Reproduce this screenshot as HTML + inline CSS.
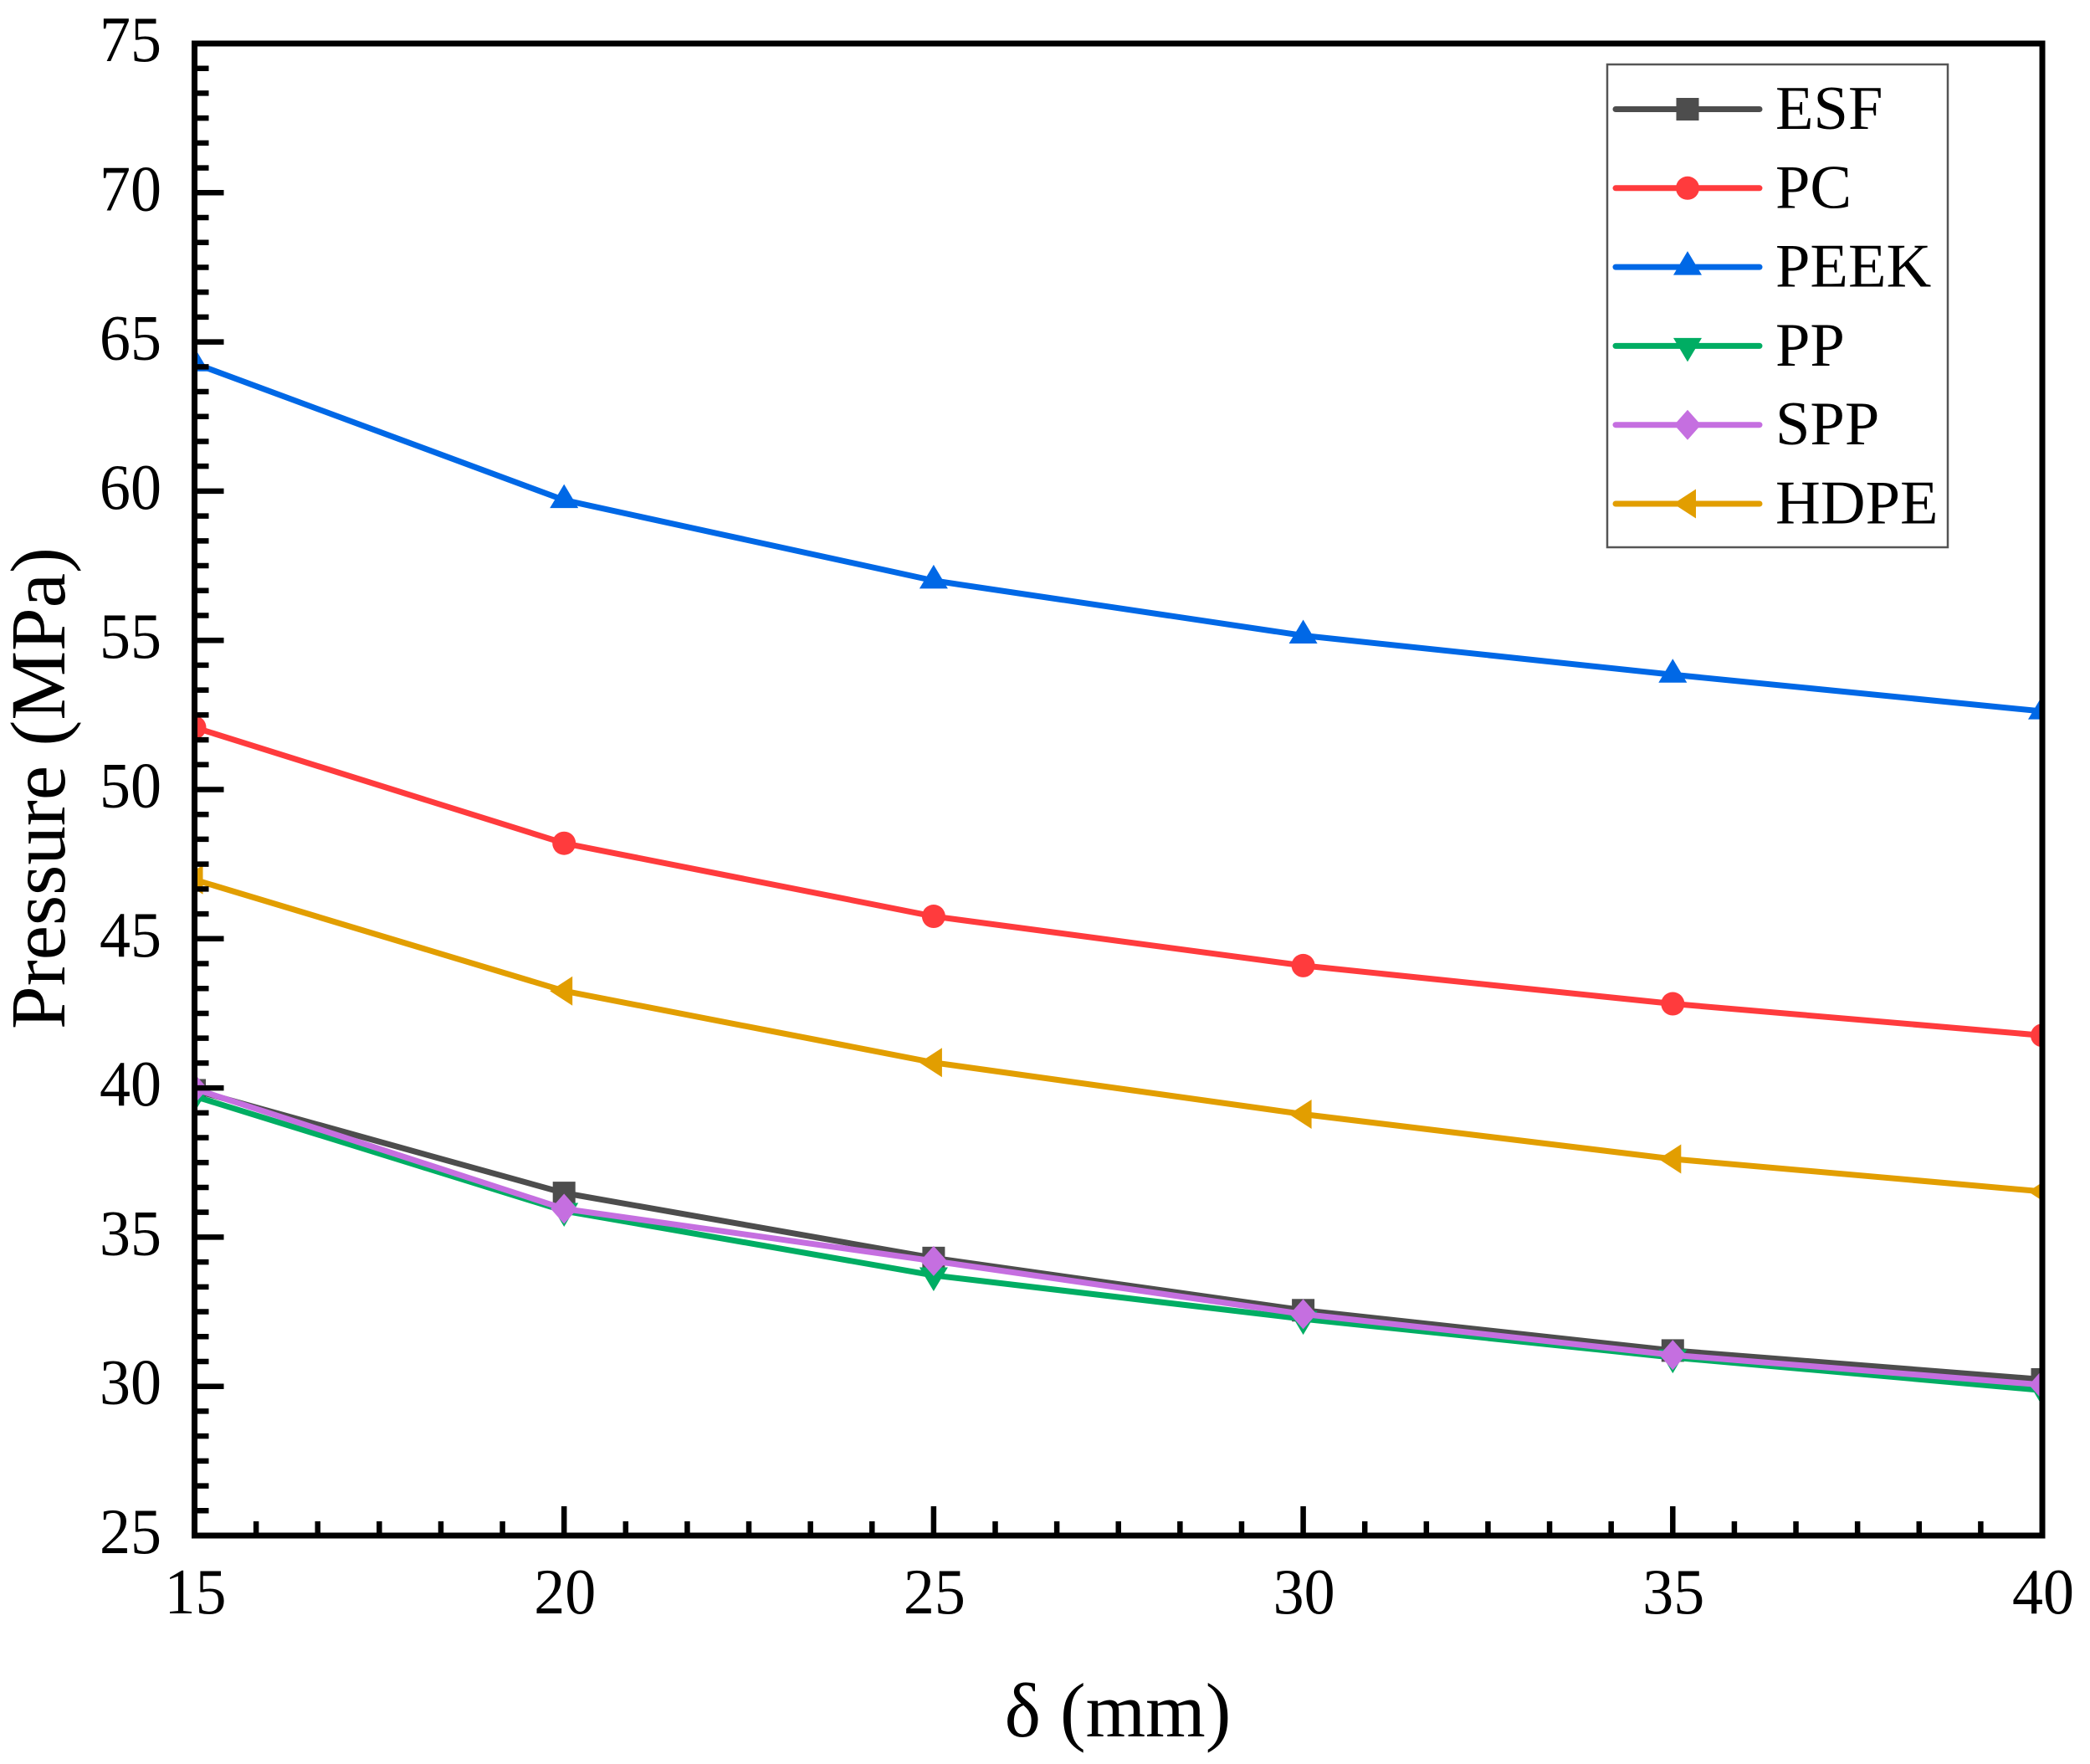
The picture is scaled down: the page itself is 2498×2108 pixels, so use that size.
<!DOCTYPE html>
<html lang="en">
<head>
<meta charset="utf-8">
<title>Pressure vs δ</title>
<style>
html,body{margin:0;padding:0;background:#fff;}
#chart{display:block;width:2498px;height:2108px;font-family:"Liberation Serif",serif;fill:#000;}
</style>
</head>
<body>
<svg id="chart" xmlns="http://www.w3.org/2000/svg" width="2498" height="2108" viewBox="0 0 2498 2108">
  <defs><clipPath id="plot-clip"><rect x="232.5" y="52" width="2208.5" height="1783"/></clipPath></defs>
  <rect x="0" y="0" width="2498" height="2108" fill="#fff"/>
  <g id="series-layer" clip-path="url(#plot-clip)"></g>
  <g id="axis-layer"></g>
  <text x="1336" y="2075" font-size="92" text-anchor="middle">δ (mm)</text>
  <text transform="translate(77,942) rotate(-90)" font-size="93" text-anchor="middle">Pressure (MPa)</text>
  <rect x="1921" y="77" width="407" height="577" fill="#fff" stroke="#555" stroke-width="2.5"/>
  <g id="legend-layer"></g>
</svg>
<script>
const categories = [15, 20, 25, 30, 35, 40];
const xTickLabels = [15, 20, 25, 30, 35, 40];
const yTickLabels = [25, 30, 35, 40, 45, 50, 55, 60, 65, 70, 75];
const seriesNames = ['ESF', 'PC', 'PEEK', 'PP', 'SPP', 'HDPE'];
const esfValues = [39.92, 36.48, 34.3, 32.55, 31.2, 30.23];
const pcValues = [52.08, 48.2, 45.75, 44.1, 42.82, 41.76];
const peekValues = [64.28, 59.7, 57.0, 55.16, 53.85, 52.62];
const ppValues = [39.72, 35.88, 33.72, 32.26, 30.97, 29.87];
const sppValues = [39.97, 35.95, 34.2, 32.42, 31.05, 30.05];
const hdpeValues = [46.98, 43.25, 40.85, 39.12, 37.62, 36.53];

const seriesValues = [esfValues, pcValues, peekValues, ppValues, sppValues, hdpeValues];
const seriesColors = ['#4d4d4d', '#ff3b3d', '#0068e6', '#00ad63', '#c56fe0', '#e29e00'];
const seriesMarkers = ['square', 'circle', 'up', 'down', 'diamond', 'left'];

const NS = 'http://www.w3.org/2000/svg';
const plot = { left: 232.5, right: 2441, top: 52, bottom: 1835 };
const xMin = 15, xMax = 40, yMin = 25, yMax = 75;
function xScale(v) { return plot.left + (v - xMin) / (xMax - xMin) * (plot.right - plot.left); }
function yScale(v) { return plot.bottom - (v - yMin) / (yMax - yMin) * (plot.bottom - plot.top); }

function make(tag, parent, props, text) {
  const el = document.createElementNS(NS, tag);
  for (const k in props) el.setAttribute(k, props[k]);
  if (text !== undefined) el.textContent = text;
  parent.appendChild(el);
  return el;
}

function drawMarker(parent, kind, cx, cy, color, name) {
  let el;
  if (kind === 'square') {
    el = make('rect', parent, { x: cx - 13.5, y: cy - 13.5, width: 27, height: 27, fill: color });
  } else if (kind === 'circle') {
    el = make('circle', parent, { cx: cx, cy: cy, r: 14, fill: color });
  } else {
    let pts;
    if (kind === 'up') pts = [[cx, cy - 19], [cx + 17, cy + 9.5], [cx - 17, cy + 9.5]];
    if (kind === 'down') pts = [[cx, cy + 19], [cx + 17, cy - 9.5], [cx - 17, cy - 9.5]];
    if (kind === 'diamond') pts = [[cx, cy - 18], [cx + 16, cy], [cx, cy + 18], [cx - 16, cy]];
    if (kind === 'left') pts = [[cx - 17, cy], [cx + 10, cy - 17.5], [cx + 10, cy + 17.5]];
    el = make('polygon', parent, { points: pts.map(p => p.join(',')).join(' '), fill: color });
  }
  
  
}

const seriesLayer = document.getElementById('series-layer');
seriesNames.forEach(function (label, s) {
  const lname = label.toLowerCase();
  const g = make('g', seriesLayer, {});
  
  
  const points = categories.map(function (c, i) { return xScale(c) + ',' + yScale(seriesValues[s][i]); }).join(' ');
  const line = make('polyline', g, { points: points, fill: 'none', stroke: seriesColors[s], 'stroke-width': 7, 'stroke-linejoin': 'round' });
  
  
  categories.forEach(function (c, i) {
    drawMarker(g, seriesMarkers[s], xScale(c), yScale(seriesValues[s][i]), seriesColors[s], 'point-' + lname + '-' + c);
  });
});

const axisLayer = document.getElementById('axis-layer');
const minorPerMajor = 6;

xTickLabels.forEach(function (v, i) {
  const x = xScale(v);
  const tick = make('line', axisLayer, { x1: x, x2: x, y1: plot.bottom, y2: plot.bottom - 35, stroke: '#000', 'stroke-width': 6.5 });
  
  
  const t = make('text', axisLayer, { x: x + 1, y: 1928, 'font-size': 77, 'text-anchor': 'middle', textLength: 74, lengthAdjust: 'spacingAndGlyphs' }, String(v));
  
  
  if (i < xTickLabels.length - 1) {
    for (let m = 1; m < minorPerMajor; m++) {
      const mx = xScale(v + (xTickLabels[i + 1] - v) * m / minorPerMajor);
      const mt = make('line', axisLayer, { x1: mx, x2: mx, y1: plot.bottom, y2: plot.bottom - 17, stroke: '#000', 'stroke-width': 6.5 });
      
      
    }
  }
});

yTickLabels.forEach(function (v, i) {
  const y = yScale(v);
  const tick = make('line', axisLayer, { x1: plot.left, x2: plot.left + 35, y1: y, y2: y, stroke: '#000', 'stroke-width': 6.5 });
  
  
  const t = make('text', axisLayer, { x: 193, y: y + 21, 'font-size': 77, 'text-anchor': 'end', textLength: 74, lengthAdjust: 'spacingAndGlyphs' }, String(v));
  
  
  if (i < yTickLabels.length - 1) {
    for (let m = 1; m < minorPerMajor; m++) {
      const my = yScale(v + (yTickLabels[i + 1] - v) * m / minorPerMajor);
      const mt = make('line', axisLayer, { x1: plot.left, x2: plot.left + 17, y1: my, y2: my, stroke: '#000', 'stroke-width': 6.5 });
      
      
    }
  }
});

const frame = make('rect', axisLayer, { x: plot.left, y: plot.top, width: plot.right - plot.left, height: plot.bottom - plot.top, fill: 'none', stroke: '#000', 'stroke-width': 7 });



const legendLayer = document.getElementById('legend-layer');
seriesNames.forEach(function (label, s) {
  const lname = label.toLowerCase();
  const rowY = 130.5 + s * 94.3;
  const g = make('g', legendLayer, {});
  
  
  const l = make('line', g, { x1: 1931, x2: 2103, y1: rowY, y2: rowY, stroke: seriesColors[s], 'stroke-width': 7, 'stroke-linecap': 'round' });
  
  
  drawMarker(g, seriesMarkers[s], 2017, rowY, seriesColors[s], 'legend-marker-' + lname);
  const t = make('text', g, { x: 2122, y: rowY + 23.5, 'font-size': 74.5 }, label);
  
  
});
</script>
</body>
</html>
